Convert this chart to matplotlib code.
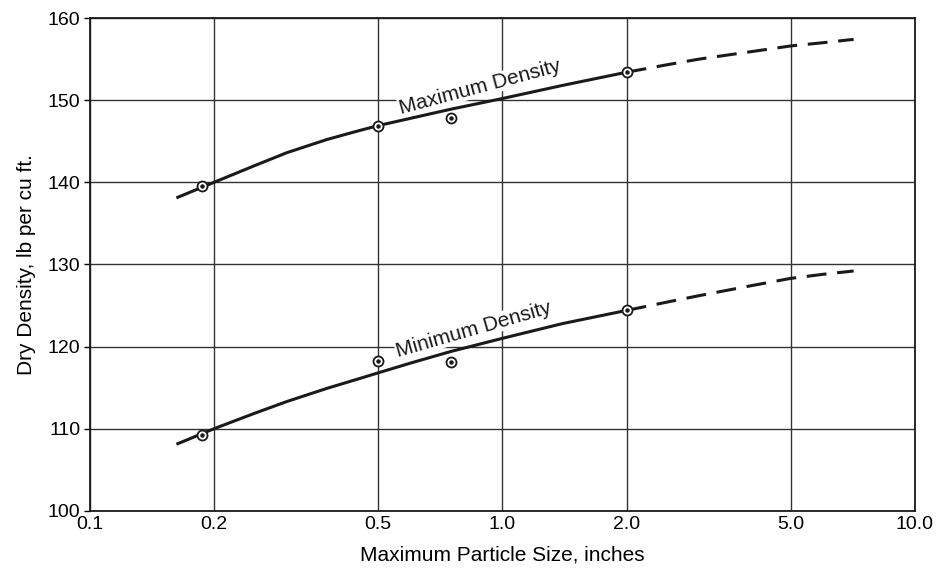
import numpy as np
import matplotlib.pyplot as plt

plt.rcParams['font.family'] = ['Liberation Sans', 'DejaVu Sans']

# measured points (max particle size in inches, dry density lb/cu ft)
pt_size = [0.187, 0.5, 0.75, 2.0]
pt_max = [139.6, 146.9, 147.8, 153.4]
pt_min = [109.2, 118.2, 118.1, 124.4]

# curves
solid_x = [0.162, 0.2, 0.25, 0.3, 0.375, 0.45, 0.5, 0.6, 0.75, 1.0, 1.4, 2.0]
solid_max = [138.1, 140.0, 142.0, 143.6, 145.2, 146.3, 146.9, 147.8, 148.9, 150.2, 151.8, 153.4]
solid_min = [108.1, 110.0, 111.85, 113.3, 114.9, 116.1, 116.8, 118.0, 119.4, 121.0, 122.8, 124.4]

dash_x = [2.0, 2.5, 3.0, 4.0, 5.0, 6.0, 7.1]
dash_max = [153.4, 154.3, 155.0, 155.9, 156.6, 157.0, 157.4]
dash_min = [124.4, 125.4, 126.2, 127.4, 128.3, 128.8, 129.2]

xticks = [0.1, 0.2, 0.5, 1.0, 2.0, 5.0, 10.0]
xticklabels = ['0.1', '0.2', '0.5', '1.0', '2.0', '5.0', '10.0']
yticks = [100, 110, 120, 130, 140, 150, 160]

fig = plt.figure(figsize=(9.37, 5.72), dpi=100)
ax = fig.add_axes([0.096, 0.107, 0.8805, 0.8615])

ax.set_xscale('log')
ax.set_xlim(0.1, 10)
ax.set_ylim(100, 160)

for ys in (solid_max, solid_min):
    ax.plot(solid_x, ys, color='#1a1a1a', lw=2.2, solid_capstyle='butt',
            solid_joinstyle='round', zorder=3)
for ys in (dash_max, dash_min):
    ax.plot(dash_x, ys, color='#1a1a1a', lw=2.2, dashes=(6.5, 3.5), zorder=3)

for ys in (pt_max, pt_min):
    ax.plot(pt_size, ys, 'o', ms=7.2, mfc='white', mec='#1a1a1a', mew=1.3, zorder=4)
    ax.plot(pt_size, ys, 'o', ms=2.2, color='#1a1a1a', zorder=5)

ax.text(0.88, 151.6, 'Maximum Density', rotation=15, fontsize=15,
        ha='center', va='center', color='#1a1a1a', zorder=6,
        bbox=dict(facecolor='white', edgecolor='none', pad=0.3))
ax.text(0.85, 122.1, 'Minimum Density', rotation=16, fontsize=15,
        ha='center', va='center', color='#1a1a1a', zorder=6,
        bbox=dict(facecolor='white', edgecolor='none', pad=0.3))

ax.set_xticks(xticks)
ax.set_xticklabels(xticklabels)
ax.xaxis.set_minor_locator(plt.NullLocator())
ax.set_yticks(yticks)
ax.tick_params(axis='x', length=0, pad=4, labelsize=14)
ax.tick_params(axis='y', length=4, width=1, pad=3, labelsize=14)

ax.grid(True, color='#333333', lw=1.0)
for s in ax.spines.values():
    s.set_linewidth(1.3)
    s.set_color('#1a1a1a')

ax.set_xlabel('Maximum Particle Size, inches', fontsize=15, labelpad=9)
ax.set_ylabel('Dry Density, lb per cu ft.', fontsize=15, labelpad=8)

fig.savefig('out.png', dpi=100)
